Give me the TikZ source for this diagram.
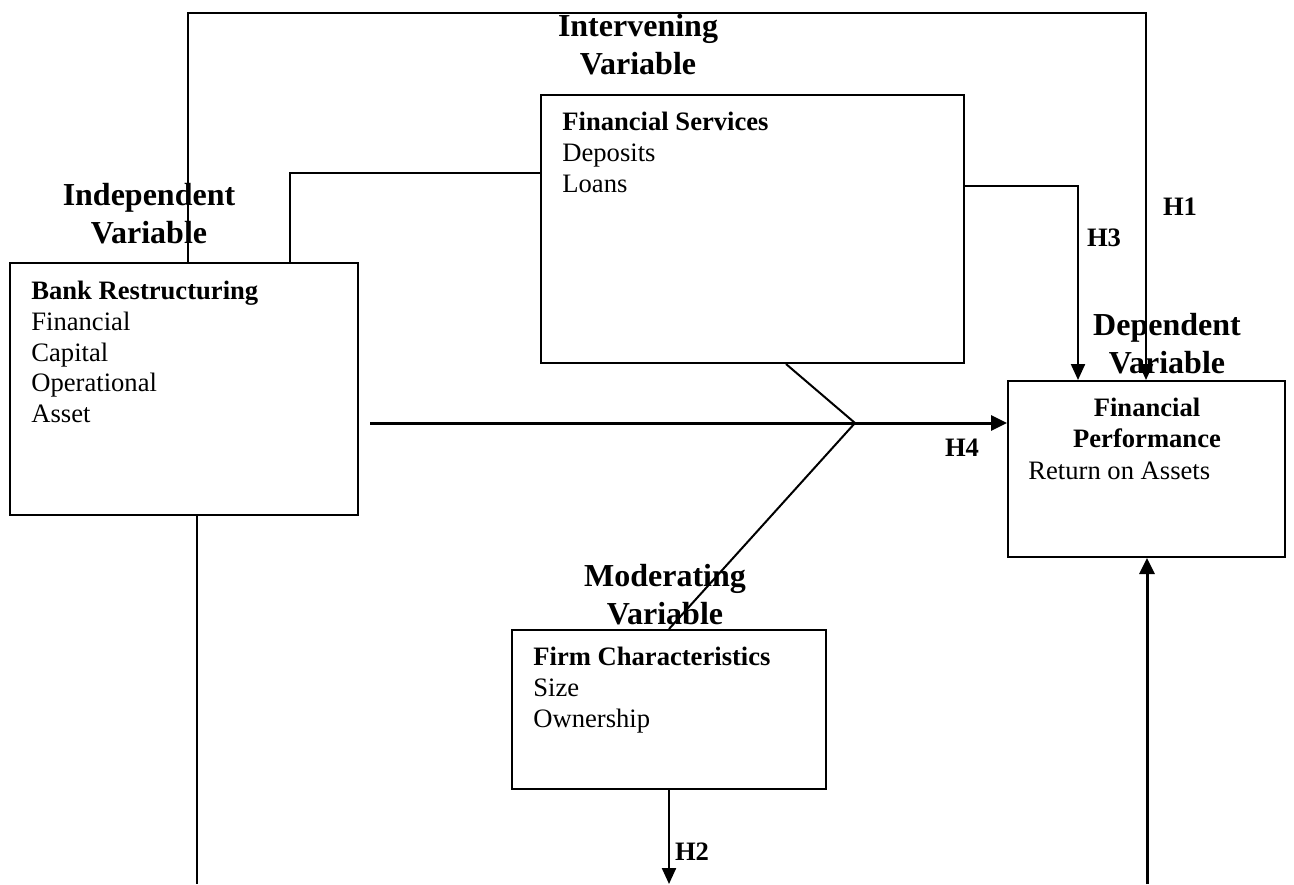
\documentclass[tikz,border=0pt]{standalone}
\usepackage{fontspec}
\setmainfont{Liberation Serif}
\usetikzlibrary{arrows.meta}
\tikzstyle{box} = [rectangle, draw=black, line width=1pt, inner sep=0pt]
\tikzstyle{boxtext} = [inner sep=0pt, anchor=north west, align=left, font=\fontsize{13.3}{15.3}\selectfont]
\tikzstyle{heading} = [inner sep=0pt, align=center, font=\fontsize{16}{19}\selectfont\bfseries]
\tikzstyle{hlabel} = [inner sep=0pt, font=\fontsize{13.3}{15.3}\selectfont\bfseries]
\tikzstyle{link} = [line width=1pt]
\tikzstyle{arrow} = [line width=1.1pt,-{Triangle[length=8pt,width=7pt]}]
\tikzstyle{arrow_thick} = [line width=1.5pt,-{Triangle[length=8pt,width=7.5pt]}]

\begin{document}
\begin{tikzpicture}[x=0.5pt, y=-0.5pt]
		\useasboundingbox (0,0) rectangle (1294,884);

		\node (bank) [box, line width=1.3pt, minimum width=174pt, minimum height=126pt] at (184,389) {};
		\node (serv) [box, minimum width=211.5pt, minimum height=134pt] at (752.5,229) {};
		\node (perf) [box, minimum width=138.5pt, minimum height=88pt] at (1146.5,469) {};
		\node (firm) [box, minimum width=157pt, minimum height=79.5pt] at (669,709.5) {};

		\node (bank_txt) [boxtext] at (31,281) {\textbf{Bank Restructuring}\\Financial\\Capital\\Operational\\Asset};
		\node (serv_txt) [boxtext] at (562,112) {\textbf{Financial Services}\\Deposits\\Loans};
		\node (firm_txt) [boxtext] at (533,647) {\textbf{Firm Characteristics}\\Size\\Ownership};
		\node (perf_head) [hlabel, align=center] at (1147,423) {Financial\\Performance};
		\node (perf_txt) [boxtext, anchor=west] at (1028,471) {Return on Assets};

		\node (indep) [heading] at (149,214) {Independent\\Variable};
		\node (interv) [heading] at (638,45) {Intervening\\Variable};
		\node (dep) [heading] at (1167,344) {Dependent\\Variable};
		\node (moder) [heading] at (665,595) {Moderating\\Variable};

		\coordinate (top_l) at (188,13);
		\coordinate (top_r) at (1146,13);
		\coordinate (serv_l) at (290,173);
		\coordinate (serv_r) at (1078,186);
		\coordinate (h4_start) at (370,423);
		\coordinate (mod) at (855,423);
		\coordinate (h2_end) at (669,884);
		\coordinate (bank_end) at (197,884);
		\coordinate (perf_start) at (1147,884);

		\draw [arrow] (bank.north -| top_l) -- (top_l) -- (top_r) -- (top_r |- perf.north);
		\draw [link] (serv.west |- serv_l) -- (serv_l) -- (serv_l |- bank.north);
		\draw [arrow] (serv.east |- serv_r) -- (serv_r) -- (serv_r |- perf.north);
		\draw [arrow_thick] (h4_start) -- (h4_start -| perf.west);
		\draw [link] ([xshift=16.75pt]serv.south) -- (mod) -- (firm.north);
		\draw [arrow] (firm.south) -- (h2_end);
		\draw [link] (bank.south -| bank_end) -- (bank_end);
		\draw [arrow_thick] (perf_start) -- (perf_start |- perf.south);

		\node (h1) [hlabel] at (1180,207) {H1};
		\node (h3) [hlabel] at (1104,238) {H3};
		\node (h4) [hlabel] at (962,448) {H4};
		\node (h2) [hlabel] at (692,852) {H2};
\end{tikzpicture}
\end{document}
